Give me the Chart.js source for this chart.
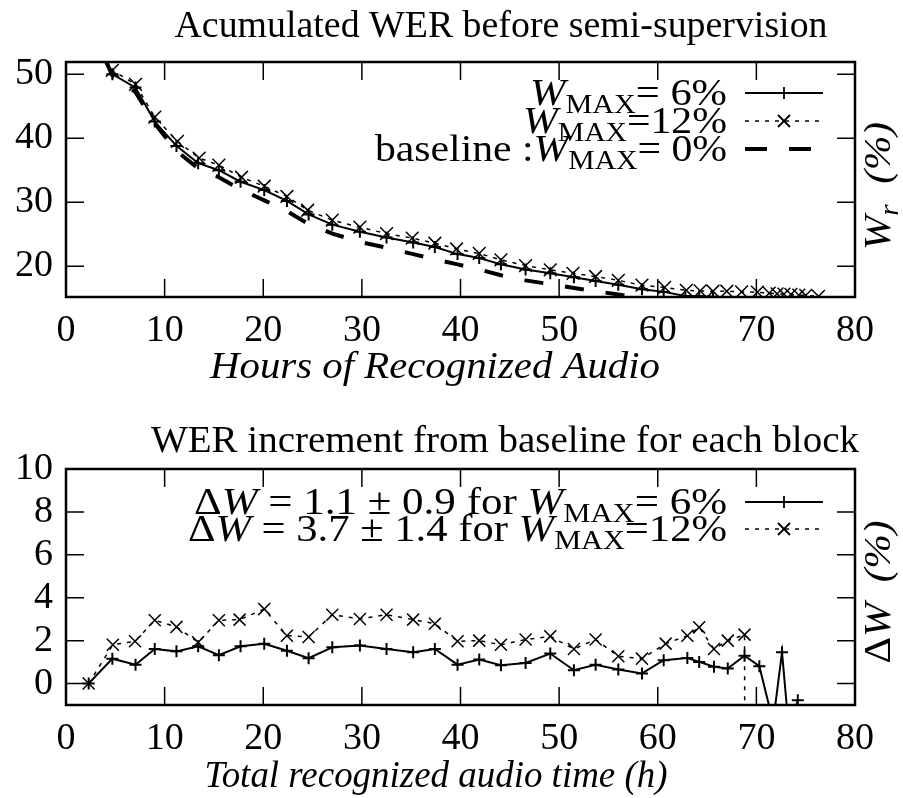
<!DOCTYPE html>
<html>
<head>
<meta charset="utf-8">
<script src="https://cdn.jsdelivr.net/npm/chart.js@4.4.1/dist/chart.umd.min.js"></script>
<style>
  body { margin: 0; background: #fff; }
  .box { width: 903px; height: 399px; }
</style>
</head>
<body>
<div class="box"><canvas id="werChart" width="903" height="399"></canvas></div>
<div class="box"><canvas id="deltaChart" width="903" height="399"></canvas></div>
<script>
const xTicks = [0, 10, 20, 30, 40, 50, 60, 70, 80];
const werTicks = [20, 30, 40, 50];
const deltaTicks = [0, 2, 4, 6, 8, 10];

// accumulated WER, top plot
const hours6 = [2.3, 4.7, 7.05, 9.0, 11.2, 13.4, 15.5, 17.7, 20.1, 22.4, 24.6, 27.0, 29.8, 32.5, 35.2, 37.4, 39.7, 41.9, 44.1, 46.6, 49.1, 51.5, 53.7, 56.0, 58.4, 60.6, 62.8, 64.2, 65.6];
const wer6 = [58.8, 50.0, 47.9, 42.6, 38.8, 36.1, 35.0, 33.2, 31.9, 30.2, 28.1, 26.5, 25.4, 24.5, 23.7, 23.0, 21.9, 21.3, 20.3, 19.5, 18.9, 18.3, 17.7, 17.1, 16.4, 16.0, 15.35, 15.3, 15.25];
const hours12 = [2.3, 4.7, 7.05, 9.0, 11.3, 13.5, 15.5, 17.8, 20.1, 22.4, 24.5, 27.0, 29.8, 32.5, 35.1, 37.4, 39.6, 41.9, 44.1, 46.6, 49.1, 51.4, 53.7, 56.0, 58.4, 60.7, 62.9, 64.3, 65.6, 67.0, 68.5, 70.1, 71.3, 72.1, 72.8, 73.5, 74.3, 75.0, 76.3];
const wer12 = [59.5, 50.6, 48.4, 43.3, 39.5, 36.9, 35.8, 33.9, 32.5, 30.9, 28.75, 27.2, 26.1, 25.1, 24.4, 23.6, 22.7, 22.0, 21.0, 20.1, 19.45, 18.9, 18.4, 17.8, 17.05, 16.7, 16.25, 16.15, 16.1, 16.1, 16.0, 15.95, 15.8, 15.7, 15.65, 15.6, 15.5, 15.45, 15.3];
const hoursBase = [2.3, 4.7, 7.05, 9.0, 11.2, 13.4, 15.5, 17.7, 20.1, 22.4, 24.6, 27.0, 29.8, 32.5, 35.2, 37.4, 39.7, 41.9, 44.1, 46.6, 49.1, 51.5, 53.7, 56.0, 58.4];
const werBase = [58, 49.8, 47.2, 42.3, 38.0, 35.3, 33.9, 32.0, 30.3, 28.6, 26.6, 25.1, 23.8, 22.9, 21.9, 21.1, 20.3, 19.5, 18.6, 17.8, 17.2, 16.6, 16.1, 15.6, 15.0];

// WER increment per block, bottom plot
const blockHours6 = [2.3, 4.7, 7.05, 9.0, 11.2, 13.4, 15.5, 17.7, 20.1, 22.4, 24.6, 27.0, 29.8, 32.5, 35.2, 37.4, 39.7, 41.9, 44.1, 46.6, 49.1, 51.5, 53.7, 56.0, 58.4, 60.6, 63.0, 64.2, 65.7, 67.1, 68.8, 70.3, 71.7, 72.6, 73.3, 74.2];
const delta6 = [0, 1.16, 0.88, 1.61, 1.5, 1.74, 1.32, 1.74, 1.85, 1.53, 1.18, 1.69, 1.77, 1.61, 1.46, 1.61, 0.88, 1.12, 0.85, 0.96, 1.40, 0.62, 0.88, 0.65, 0.47, 1.09, 1.19, 1.01, 0.78, 0.70, 1.30, 0.81, -1.8, 1.46, -2.2, -0.78];
const blockHours12 = [2.3, 4.75, 7.0, 9.0, 11.2, 13.4, 15.5, 17.6, 20.1, 22.4, 24.6, 27.0, 29.8, 32.5, 35.2, 37.4, 39.7, 41.9, 44.1, 46.6, 49.1, 51.5, 53.7, 56.0, 58.4, 60.8, 63.0, 64.2, 65.7, 67.1, 68.8, 68.9];
const delta12 = [0, 1.81, 1.97, 2.95, 2.64, 1.92, 2.95, 2.98, 3.47, 2.23, 2.17, 3.21, 3.01, 3.21, 2.98, 2.79, 1.97, 2.0, 1.81, 2.05, 2.2, 1.61, 2.05, 1.27, 1.16, 1.86, 2.23, 2.62, 1.61, 2.0, 2.28, -20];

const FONT = '"Liberation Serif", "Times New Roman", serif';
const SIZE = 38;

const pts = (xs, ys) => xs.map((x, i) => ({ x: x, y: ys[i] }));

function segFont(st) {
  const sub = st === 's' || st === 'si';
  const it = st === 'i' || st === 'si';
  return (it ? 'italic ' : '') + (sub ? Math.round(SIZE * 0.7) : SIZE) + 'px ' + FONT;
}

// text made of pieces: r = roman, i = italic, s = subscript, si = italic subscript
// fit: width the finished text should take, like the TeX font of the original
function drawRich(ctx, segs, x, y, align, fit) {
  ctx.save();
  ctx.textBaseline = 'alphabetic';
  ctx.textAlign = 'left';
  ctx.fillStyle = '#000';
  let w = 0;
  segs.forEach(([t, st]) => { ctx.font = segFont(st); w += ctx.measureText(t).width; });
  const sx = fit ? fit / w : 1;
  const left = align === 'right' ? x - w * sx : align === 'center' ? x - w * sx / 2 : x;
  ctx.translate(left, y);
  ctx.scale(sx, 1);
  let cx = 0;
  segs.forEach(([t, st]) => {
    ctx.font = segFont(st);
    const dy = (st === 's' || st === 'si') ? SIZE * 0.22 : 0;
    ctx.fillText(t, cx, dy);
    cx += ctx.measureText(t).width;
  });
  ctx.restore();
}

function marker(ctx, style, r, x, y) {
  ctx.beginPath();
  if (style === 'cross') {
    ctx.moveTo(x - r, y); ctx.lineTo(x + r, y);
    ctx.moveTo(x, y - r); ctx.lineTo(x, y + r);
  } else {
    const d = r * Math.SQRT1_2;
    ctx.moveTo(x - d, y - d); ctx.lineTo(x + d, y + d);
    ctx.moveTo(x - d, y + d); ctx.lineTo(x + d, y - d);
  }
  ctx.stroke();
}

const gnuplotLook = {
  id: 'gnuplotLook',
  afterDatasetsDraw(chart, args, opts) {
    const { ctx, chartArea: a } = chart;
    const x = chart.scales.x, y = chart.scales.y;
    ctx.save();
    ctx.strokeStyle = '#000';
    ctx.lineWidth = 1.5;
    ctx.beginPath();
    x.ticks.forEach(t => {
      const px = x.getPixelForValue(t.value);
      ctx.moveTo(px, a.bottom); ctx.lineTo(px, a.bottom - 18);
      ctx.moveTo(px, a.top); ctx.lineTo(px, a.top + 18);
    });
    y.ticks.forEach(t => {
      const py = y.getPixelForValue(t.value);
      ctx.moveTo(a.left, py); ctx.lineTo(a.left + 18, py);
      ctx.moveTo(a.right, py); ctx.lineTo(a.right - 18, py);
    });
    ctx.stroke();
    ctx.lineWidth = 2.5;
    ctx.strokeRect(a.left, a.top, a.right - a.left, a.bottom - a.top);

    // key, gnuplot style: text on the left, sample on the right
    opts.key.forEach(row => {
      const ry = a.top + row.dy;
      drawRich(ctx, row.text, 727, ry + 12, 'right', row.fit);
      ctx.save();
      ctx.lineWidth = row.width;
      ctx.setLineDash(row.dash || []);
      ctx.beginPath();
      ctx.moveTo(745, ry); ctx.lineTo(823, ry);
      ctx.stroke();
      ctx.restore();
      if (row.point) {
        ctx.lineWidth = 1.8;
        marker(ctx, row.point, row.point === 'cross' ? 6 : 8.5, 784, ry);
      }
    });

    drawRich(ctx, [[opts.title, 'r']], opts.titleX, opts.titleY + 12, 'center', opts.titleFit);
    drawRich(ctx, [[opts.xTitle, 'i']], opts.xTitleX, opts.xTitleY + 12, 'center', opts.xTitleFit);
    ctx.save();
    ctx.translate(878, opts.yTitleY);
    ctx.rotate(-Math.PI / 2);
    drawRich(ctx, opts.yTitle, 0, 12, 'center', opts.yTitleFit);
    ctx.restore();
    ctx.restore();
  }
};

function axes(yMin, yMax, yTickList, xHeight) {
  const tickFont = { family: FONT, size: SIZE };
  return {
    x: {
      type: 'linear', min: 0, max: 80,
      afterBuildTicks: s => { s.ticks = xTicks.map(v => ({ value: v })); },
      afterFit: s => { s.height = xHeight; },
      grid: { display: false, drawTicks: false },
      border: { display: false },
      ticks: { font: tickFont, color: '#000', padding: 11, maxRotation: 0, autoSkip: false }
    },
    y: {
      min: yMin, max: yMax,
      afterBuildTicks: s => { s.ticks = yTickList.map(v => ({ value: v })); },
      afterFit: s => { s.width = 66; },
      grid: { display: false, drawTicks: false },
      border: { display: false },
      ticks: { font: tickFont, color: '#000', padding: 13, autoSkip: false }
    }
  };
}

const common = {
  responsive: false,
  animation: false,
  events: [],
  elements: { line: { tension: 0, borderColor: '#000', borderCapStyle: 'butt' },
              point: { borderColor: '#000', backgroundColor: '#000', borderWidth: 1.8 } }
};

new Chart(document.getElementById('werChart'), {
  type: 'line',
  data: {
    datasets: [
      { label: 'W_MAX = 6%', data: pts(hours6, wer6), borderWidth: 2, pointStyle: 'cross', pointRadius: 6 },
      { label: 'W_MAX = 12%', data: pts(hours12, wer12), borderWidth: 1.5, borderDash: [4, 6], pointStyle: 'crossRot', pointRadius: 9 },
      { label: 'baseline', data: pts(hoursBase, werBase), borderWidth: 4, borderDash: [19, 22], pointRadius: 0 }
    ]
  },
  options: Object.assign({}, common, {
    layout: { padding: { top: 62, right: 48, left: 0, bottom: 0 } },
    scales: axes(15.2, 51.9, werTicks, 102),
    plugins: {
      legend: { display: false },
      tooltip: { enabled: false },
      gnuplotLook: {
        title: 'Acumulated WER before semi-supervision', titleX: 501, titleY: 25, titleFit: 653,
        xTitle: 'Hours of Recognized Audio', xTitleX: 435, xTitleY: 366, xTitleFit: 450,
        yTitle: [['W', 'i'], ['r', 'si'], ['  (%)', 'i']], yTitleY: 186, yTitleFit: 128,
        key: [
          { dy: 31, fit: 197, text: [['W', 'i'], ['MAX', 's'], ['= 6%', 'r']], width: 2, point: 'cross' },
          { dy: 59, fit: 204, text: [['W', 'i'], ['MAX', 's'], ['=12%', 'r']], width: 1.5, dash: [4, 6], point: 'crossRot' },
          { dy: 87, fit: 352, text: [['baseline :', 'r'], ['W', 'i'], ['MAX', 's'], ['= 0%', 'r']], width: 4, dash: [22, 22] }
        ]
      }
    }
  }),
  plugins: [gnuplotLook]
});

new Chart(document.getElementById('deltaChart'), {
  type: 'line',
  data: {
    datasets: [
      { label: 'W_MAX = 6%', data: pts(blockHours6, delta6), borderWidth: 2, pointStyle: 'cross', pointRadius: 6 },
      { label: 'W_MAX = 12%', data: pts(blockHours12, delta12), borderWidth: 1.5, borderDash: [4, 6], pointStyle: 'crossRot', pointRadius: 8.5 }
    ]
  },
  options: Object.assign({}, common, {
    layout: { padding: { top: 70, right: 48, left: 0, bottom: 0 } },
    scales: axes(-1, 10, deltaTicks, 93),
    plugins: {
      legend: { display: false },
      tooltip: { enabled: false },
      gnuplotLook: {
        title: 'WER increment from baseline for each block', titleX: 505, titleY: 41, titleFit: 708,
        xTitle: 'Total recognized audio time (h)', xTitleX: 436, xTitleY: 376, xTitleFit: 463,
        yTitle: [['\u0394', 'r'], ['W', 'i'], ['  (%)', 'i']], yTitleY: 193, yTitleFit: 143,
        key: [
          { dy: 33, fit: 533, text: [['\u0394', 'r'], ['W', 'i'], [' = 1.1 \u00b1 0.9 for ', 'r'], ['W', 'i'], ['MAX', 's'], ['= 6%', 'r']], width: 2, point: 'cross' },
          { dy: 60, fit: 539, text: [['\u0394', 'r'], ['W', 'i'], [' = 3.7 \u00b1 1.4 for ', 'r'], ['W', 'i'], ['MAX', 's'], ['=12%', 'r']], width: 1.5, dash: [4, 6], point: 'crossRot' }
        ]
      }
    }
  }),
  plugins: [gnuplotLook]
});
</script>
</body>
</html>
